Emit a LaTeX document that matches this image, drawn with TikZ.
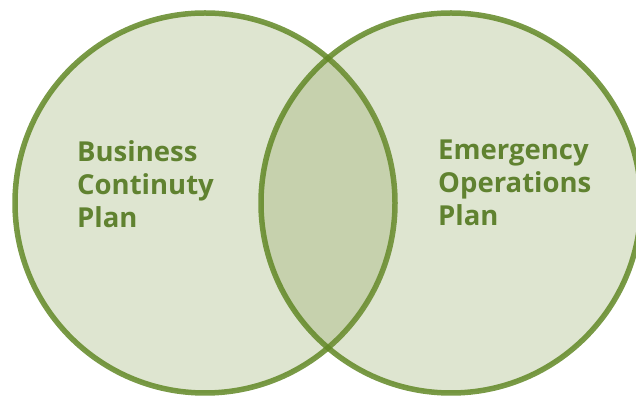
\documentclass[tikz,border=0pt]{standalone}
\usepackage{fontspec}
\setmainfont{Open Sans}
\definecolor{vgreen}{RGB}{118,146,60}
\definecolor{vstroke}{RGB}{98,136,38}
\definecolor{vtext}{RGB}{96,130,48}
\tikzset{
  venn/.style={circle, minimum size=380pt, inner sep=0pt, fill=vgreen, fill opacity=0.24, draw=vstroke, draw opacity=0.85, line width=5.5pt},
  vlabel/.style={anchor=north west, align=left, inner sep=0pt, text=vtext, font=\fontsize{27.5}{33}\selectfont\bfseries, text opacity=1}
}
\begin{document}
\begin{tikzpicture}[x=1pt,y=1pt]
\useasboundingbox (0,0) rectangle (636,398);
\node[venn] (left) at (205,195) {};
\node[venn] (right) at (451,195) {};
\node[vlabel] (bcp) at (77,258) {Business\\Continuty\\Plan};
\node[vlabel] (eop) at (438,258) {Emergency\\Operations\\Plan};
\end{tikzpicture}
\end{document}
